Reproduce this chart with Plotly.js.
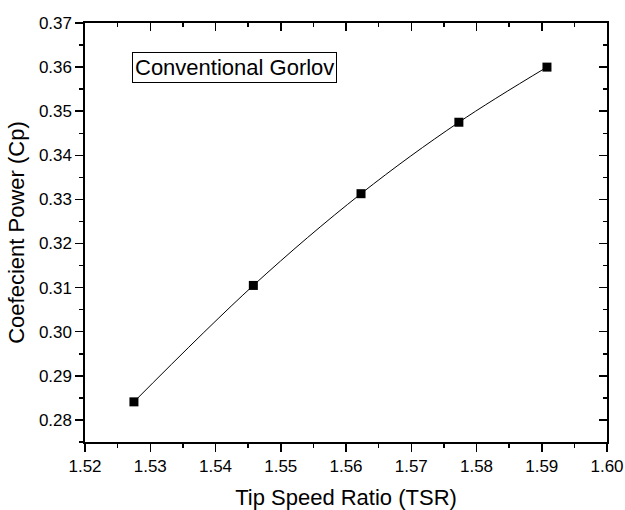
<!DOCTYPE html>
<html>
<head>
<meta charset="utf-8">
<script src="https://cdn.plot.ly/plotly-3.0.1.min.js"></script>
<style>html,body{margin:0;padding:0;background:#fff;}#chart{width:625px;height:510px;}</style>
</head>
<body>
<div id="chart"></div>
<script>
const tsr = [1.5275, 1.5458, 1.5623, 1.5773, 1.5908];
const cp = [0.2841, 0.3105, 0.3313, 0.3475, 0.3600];
const xTitle = 'Tip Speed Ratio (TSR)';
const yTitle = 'Coefecient Power (Cp)';
const label = 'Conventional Gorlov';
const xRange = [1.52, 1.60];
const yRange = [0.275, 0.37];

const F = 'Arial, "Liberation Sans", sans-serif';
const traces = [
  {x: tsr, y: cp, type: 'scatter', mode: 'lines+markers',
   line: {color: '#000', width: 1, shape: 'spline'},
   marker: {symbol: 'square', size: 9, color: '#000'},
   hoverinfo: 'none'},
  {x: xRange, y: yRange, xaxis: 'x2', yaxis: 'y2', type: 'scatter', mode: 'markers',
   marker: {opacity: 0}, hoverinfo: 'none', showlegend: false}
];
const common = {showgrid: false, zeroline: false, showline: true, linecolor: '#000', linewidth: 1.6,
  tickcolor: '#000', tickwidth: 1.5, ticklen: 8};
const layout = {
  width: 625, height: 510,
  margin: {l: 85, r: 18, t: 23, b: 68},
  paper_bgcolor: '#fff', plot_bgcolor: '#fff',
  showlegend: false,
  font: {family: F, color: '#000'},
  xaxis: Object.assign({}, common, {range: xRange, dtick: 0.01, tick0: 1.52, tickformat: '.2f',
    ticks: 'outside', tickfont: {size: 17, family: F},
    minor: {dtick: 0.005, ticklen: 4, ticks: 'outside', tickcolor: '#000', tickwidth: 1.5},
    title: {text: xTitle, font: {size: 22, family: F}, standoff: 15}}),
  yaxis: Object.assign({}, common, {range: yRange, dtick: 0.01, tick0: 0.28, tickformat: '.2f',
    ticks: 'outside', tickfont: {size: 17, family: F},
    minor: {dtick: 0.005, ticklen: 4, ticks: 'outside', tickcolor: '#000', tickwidth: 1.5},
    title: {text: yTitle, font: {size: 22, family: F}, standoff: 8}}),
  xaxis2: Object.assign({}, common, {range: xRange, dtick: 0.01, tick0: 1.52, overlaying: 'x', side: 'top', anchor: 'y',
    ticks: 'inside', showticklabels: false,
    minor: {dtick: 0.005, ticklen: 4, ticks: 'inside', tickcolor: '#000', tickwidth: 1.5}}),
  yaxis2: Object.assign({}, common, {range: yRange, dtick: 0.01, tick0: 0.28, overlaying: 'y', side: 'right', anchor: 'x',
    ticks: 'inside', showticklabels: false,
    minor: {dtick: 0.005, ticklen: 4, ticks: 'inside', tickcolor: '#000', tickwidth: 1.5}}),
  annotations: [{
    text: label, xref: 'paper', yref: 'paper', x: 0.09, y: 0.931, xanchor: 'left', yanchor: 'top',
    showarrow: false, font: {size: 22, family: F, color: '#000'},
    bordercolor: '#000', borderwidth: 1, borderpad: 2, bgcolor: '#fff'
  }]
};
Plotly.newPlot('chart', traces, layout, {displayModeBar: false, staticPlot: true});
</script>
</body>
</html>
